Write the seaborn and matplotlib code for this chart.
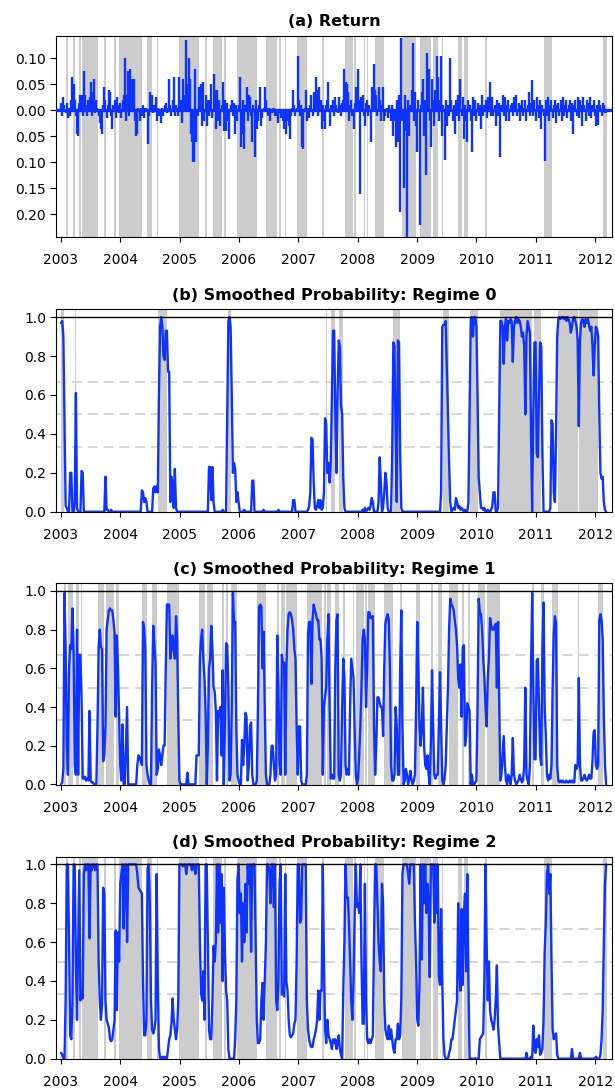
import matplotlib
matplotlib.use('Agg')
import matplotlib.pyplot as plt
from matplotlib.ticker import FuncFormatter
import seaborn as sns
import pandas as pd
import numpy as np

# weekly observations, first week ending 2003-01-03
first_week = '2003-01-03'

# weekly return, in percent
returns_pct = [
    1.5, -1, 2.5, 1, -0.5, 1.5, -1.5, 0.5, -1, 2, 6.5, 5, 2, -1, -4.5, -5, 1.5, 3, 3, -1,
    7.5, 3, 1, -1, 2, 2.5, 5.5, -1, 3.5, 6, -0.5, 2, 0.5, -1, -2.5, -3.5, -4.5, 1, 4.5, 2,
    -1.5, 1, 4, 3.5, -1, -3.5, 1, 2, -1.5, 2.5, 1, -0.5, 1.5, -1.5, 2, 3, 10, -2, 3, 7.5,
    -1, 8, 6, 2, 6, -2, -5, -4.5, 0.5, -2, 0.5, -1, 1, -1.5, 0.5, 0.5, -6.5, -1, 3.5, 0.5,
    3, -0.5, 1, 2.5, -2, 0.5, -1, -0.5, -2.5, 0.5, -1, 1, 1.5, -0.5, 0.5, 6, 1, -1, 2, 6.5,
    -1, 1, 0.5, -1, 6.5, 2, -2.5, 6, 3, 2, 13.5, 5, 10, 6, -4.5, -6, -10, -10, 8, -6,
    -1, 4.5, 1, 5, -3, 5.5, -2, 3, -3, 2, -1, 2, 5, -1.5, 7, 4, -3.5, 4, -2, 2,
    -3, 1, 5.5, -4, 2, -4, 1.5, -2, -5.5, 1, 2, -1, 1.5, -4.5, 1, -2, 1, 6.5, -7, -4.5,
    2, -7.5, 1, 4.5, -2, 3, 2.5, -1, -6, 1, -9, 2, -3.5, -2, 1, 4.5, -3, -1.5, 0.5, 4.5,
    2, 0.5, -1, 0.5, -2, -0.5, 0.5, 0.5, -1, 0, -1, -2.5, -0.5, -1.5, -1, -2, -3.5, -1.5, -4.5, -2,
    -3, -5.5, -1, 0.5, 4, 1, -1, 0.5, 10.5, 2, -1, 1, -7, -7.5, 0.5, 4, -2, 0.5, -1.5, 1,
    3, -1, 3.5, 2, 6.5, 4, -1, 4.5, 2, -3.5, 1, -2, -3.5, 1, 2, 5.5, -3, 1, 0.5, 2,
    -1, 2.5, 1, -0.5, 2.5, 1, -1, 1.5, 2, 8, 5.5, 5, 3.5, -2, 1, 2, -1, -3.5, 1.5, 4.5,
    1, 8, 2, -16, 2.5, 3, -1, -3, 1.5, 2, -1, 1, -6, 4.5, 2, 9, 4, 3, -1, 4.5,
    2, -2, 1, 4.5, -2, -1, 0.5, -1.5, 1, -0.5, -2, 1, -5, -2, -7, 2, -6, 3, -19.5, 14,
    -2, -15, 3, -4, -25, 2, -5, 1, 4, 13, -2, 3.5, -3, -8, 2, -22, 1, 3.5, 6, -5,
    2, -12.5, 11, 8, -2, -7, 6, 2, -3, 4, 10.5, 6.5, -2, 2, 10.5, -5, 1, -9.5, 2, -3,
    1, -1, 10, 2, -2, 1, -4.5, 2, -1, 3, -2, 6, -1, 2.5, -5.5, 1, -2, -6, 2, 1,
    -2, -8, 2.5, -1, 2, -2, 1.5, -1, 1, -3.5, 3, -1, 1, 2, -1.5, 2.5, 1, 5.5, -1, 2.5,
    -1, 1, -3, 2, -1, 1.5, -9, 1, 3, -1, 2.5, -2, 1, 2, -2, 1, 1.5, -1, 2.5, 1,
    3, -1, 1.5, -2, 1, 2, -1, 0.5, 2, -2, 1, 3.5, -1, 1.5, 5.8, -1, 2, -2, 2.5, 1,
    -1.5, 2, -3.5, 1, -1, -9.7, 2, -1, 2.5, -2, 1, 2, -1.5, 1, 2, -2.5, 1, 1.5, -1, 2,
    -2, 2.5, -1, 1, 2, -1.5, 1, 2, -2, 1.5, -4.5, 1, 2, -1, 2.5, -1.5, 2, 1, -3, 2.5,
    1, -2, 2, 1.5, -1, 2.5, -1.5, 1, 2, -1, -3, 1, -2.8, 2, 1, -1, 1.5, 1, -0.5, -0.5,
]

# smoothed probabilities, in percent
prob_regime0 = [
    97, 98, 90, 45, 3, 2, 0, 0, 20, 20, 0, 0, 5, 61, 2, 0, 0, 0, 21, 20,
    0, 0, 0, 0, 0, 0, 0, 0, 0, 0, 0, 0, 0, 0, 0, 0, 0, 0, 0, 18,
    1, 1, 0, 0, 1, 0, 0, 0, 0, 0, 0, 0, 0, 0, 0, 0, 0, 0, 0, 0,
    0, 0, 0, 0, 0, 0, 0, 0, 0, 0, 0, 11, 10, 5, 7, 5, 0, 0, 0, 0,
    0, 12, 13, 10, 13, 10, 60, 95, 100, 95, 80, 78, 93, 93, 72, 72, 5, 18, 15, 2,
    22, 2, 0, 0, 0, 0, 0, 0, 0, 0, 0, 0, 0, 0, 0, 0, 0, 0, 0, 0,
    0, 0, 0, 0, 0, 0, 0, 0, 0, 0, 23, 23, 6, 23, 5, 0, 0, 0, 0, 0,
    0, 0, 1, 0, 0, 0, 50, 98, 100, 95, 60, 20, 25, 22, 5, 10, 5, 0, 0, 0,
    0, 1, 0, 0, 0, 0, 0, 0, 16, 16, 0, 0, 0, 0, 0, 0, 0, 0, 1, 0,
    0, 0, 0, 0, 0, 0, 0, 0, 0, 0, 0, 1, 0, 0, 0, 0, 0, 0, 0, 0,
    0, 0, 0, 0, 6, 6, 0, 0, 0, 0, 0, 0, 0, 0, 0, 0, 0, 1, 3, 10,
    38, 37, 15, 2, 1, 3, 6, 2, 6, 1, 2, 10, 48, 45, 20, 25, 15, 25, 60, 93,
    93, 50, 20, 60, 88, 85, 55, 50, 17, 2, 0, 0, 0, 0, 0, 0, 0, 0, 0, 0,
    0, 0, 0, 0, 0, 1, 0, 2, 0, 1, 2, 1, 3, 7, 5, 0, 0, 0, 0, 5,
    28, 15, 0, 2, 10, 20, 15, 2, 0, 0, 0, 30, 87, 85, 40, 5, 88, 87, 30, 2,
    0, 0, 0, 0, 0, 0, 0, 0, 0, 0, 0, 0, 0, 0, 0, 0, 0, 0, 0, 0,
    0, 0, 0, 0, 0, 0, 0, 0, 0, 0, 0, 0, 0, 0, 10, 95, 96, 96, 98, 75,
    50, 25, 5, 0, 1, 2, 1, 7, 5, 2, 3, 1, 2, 1, 0, 1, 0, 0, 5, 50,
    98, 100, 90, 100, 100, 95, 60, 18, 10, 2, 2, 1, 2, 0, 0, 1, 0, 0, 1, 3,
    10, 10, 0, 0, 2, 50, 98, 98, 95, 76, 95, 99, 88, 98, 97, 99, 98, 77, 95, 98,
    100, 97, 99, 98, 95, 90, 92, 85, 50, 90, 98, 95, 92, 40, 0, 50, 87, 87, 30, 28,
    60, 87, 85, 30, 0, 0, 0, 0, 0, 0, 2, 47, 45, 10, 5, 40, 90, 99, 100, 99,
    100, 100, 99, 100, 98, 100, 99, 97, 92, 95, 99, 100, 98, 95, 88, 44, 88, 97, 99, 98,
    95, 99, 97, 99, 96, 93, 95, 85, 70, 85, 95, 94, 90, 50, 20, 17, 18, 5, 1, 0,
]

prob_regime1 = [
    0, 1, 8, 99, 70, 20, 5, 60, 72, 70, 91, 70, 10, 5, 80, 5, 67, 67, 45, 3,
    3, 4, 2, 3, 2, 38, 2, 1, 1, 0, 0, 0, 30, 71, 80, 71, 70, 12, 15, 30,
    80, 85, 90, 91, 90, 90, 85, 78, 35, 77, 60, 35, 10, 2, 31, 0, 0, 20, 40, 0,
    0, 0, 0, 0, 0, 0, 0, 10, 15, 14, 12, 10, 84, 80, 70, 10, 5, 2, 0, 0,
    50, 82, 72, 63, 5, 8, 18, 15, 10, 15, 20, 20, 60, 93, 93, 93, 65, 70, 77, 70,
    65, 87, 75, 35, 2, 0, 0, 0, 0, 0, 0, 6, 0, 0, 0, 0, 0, 0, 0, 15,
    15, 15, 65, 75, 80, 65, 55, 38, 0, 20, 60, 65, 82, 70, 50, 48, 38, 2, 38, 35,
    40, 15, 59, 0, 30, 73, 72, 50, 2, 5, 40, 99, 84, 84, 30, 5, 2, 0, 0, 23,
    10, 20, 37, 35, 2, 10, 30, 32, 5, 0, 0, 0, 2, 40, 92, 93, 92, 60, 79, 40,
    5, 0, 0, 0, 5, 20, 20, 10, 2, 5, 77, 50, 10, 5, 67, 62, 63, 5, 60, 80,
    88, 89, 88, 85, 80, 70, 65, 30, 5, 30, 30, 2, 0, 0, 0, 0, 5, 78, 84, 84,
    52, 85, 93, 90, 88, 85, 85, 75, 75, 65, 5, 40, 45, 50, 75, 88, 40, 3, 5, 3,
    3, 60, 85, 88, 5, 2, 5, 40, 65, 55, 10, 5, 8, 5, 40, 65, 60, 55, 30, 5,
    0, 3, 15, 30, 50, 75, 80, 75, 40, 60, 89, 89, 86, 86, 87, 30, 5, 20, 45, 45,
    42, 40, 40, 25, 60, 83, 86, 88, 85, 60, 10, 2, 2, 5, 40, 30, 5, 5, 60, 90,
    30, 0, 2, 8, 5, 0, 3, 7, 2, 0, 2, 5, 40, 84, 60, 30, 20, 30, 50, 20,
    10, 8, 15, 5, 0, 22, 59, 30, 5, 3, 5, 5, 30, 58, 30, 2, 0, 3, 10, 30,
    50, 80, 96, 93, 92, 90, 85, 80, 72, 55, 50, 62, 35, 71, 72, 20, 25, 42, 40, 38,
    0, 5, 0, 0, 1, 2, 40, 96, 89, 88, 80, 65, 55, 40, 30, 55, 65, 86, 82, 80,
    80, 82, 83, 50, 84, 45, 2, 5, 15, 25, 10, 2, 0, 5, 3, 0, 5, 24, 5, 2,
    0, 1, 2, 5, 3, 1, 2, 10, 50, 5, 2, 0, 10, 60, 99, 50, 13, 13, 64, 65,
    40, 15, 10, 70, 94, 40, 25, 5, 2, 5, 3, 10, 50, 78, 87, 83, 10, 2, 1, 2,
    1, 2, 1, 1, 2, 1, 1, 2, 1, 2, 1, 1, 10, 8, 10, 55, 10, 2, 2, 3,
    5, 3, 2, 3, 5, 3, 3, 12, 27, 28, 10, 8, 10, 85, 88, 85, 75, 35, 10, 0,
]

prob_regime2 = [
    3, 2, 0, 0, 30, 100, 100, 60, 12, 10, 30, 100, 100, 50, 20, 60, 97, 30, 35, 31,
    95, 100, 97, 100, 100, 62, 100, 97, 100, 100, 97, 100, 100, 50, 30, 20, 28, 88, 85, 30,
    20, 18, 16, 10, 9, 10, 15, 20, 66, 25, 65, 50, 90, 95, 100, 67, 100, 100, 60, 100,
    100, 100, 100, 100, 100, 100, 100, 95, 88, 87, 86, 85, 40, 12, 12, 20, 98, 100, 80, 30,
    15, 13, 15, 20, 95, 40, 5, 0, 0, 1, 0, 1, 0, 0, 5, 10, 12, 18, 31, 20,
    15, 10, 15, 30, 100, 100, 100, 99, 100, 100, 95, 100, 100, 100, 100, 97, 100, 100, 95, 100,
    100, 100, 60, 34, 30, 45, 20, 100, 100, 60, 15, 10, 10, 30, 58, 50, 60, 100, 65, 100,
    70, 95, 40, 88, 55, 35, 30, 5, 0, 0, 0, 0, 0, 10, 30, 92, 100, 75, 85, 50,
    80, 60, 90, 65, 100, 90, 100, 55, 100, 100, 100, 60, 20, 8, 8, 10, 30, 39, 20, 40,
    60, 100, 100, 97, 80, 100, 100, 78, 100, 30, 25, 40, 90, 100, 33, 35, 32, 95, 40, 35,
    20, 12, 11, 12, 13, 18, 20, 50, 100, 100, 70, 72, 100, 100, 100, 100, 30, 15, 10, 7,
    6, 6, 10, 12, 15, 20, 35, 20, 35, 35, 100, 50, 15, 8, 20, 12, 10, 8, 5, 10,
    8, 10, 5, 8, 12, 5, 2, 0, 35, 60, 100, 83, 83, 70, 50, 30, 20, 40, 75, 100,
    78, 80, 75, 100, 50, 18, 18, 90, 30, 10, 8, 10, 8, 10, 12, 60, 100, 100, 80, 60,
    50, 45, 90, 80, 30, 15, 12, 10, 17, 10, 15, 10, 5, 3, 10, 10, 18, 10, 12, 30,
    95, 100, 100, 100, 100, 95, 90, 100, 100, 100, 100, 70, 50, 20, 17, 40, 100, 51, 100, 80,
    100, 75, 90, 80, 42, 100, 100, 100, 70, 100, 75, 100, 42, 38, 77, 40, 10, 2, 0, 0,
    0, 3, 5, 10, 10, 15, 20, 25, 30, 80, 45, 35, 77, 38, 75, 85, 45, 95, 40, 0,
    0, 0, 0, 0, 0, 0, 0, 0, 10, 11, 12, 13, 40, 100, 60, 30, 50, 25, 20, 18,
    15, 20, 30, 48, 17, 8, 0, 0, 0, 0, 0, 0, 0, 0, 0, 0, 0, 0, 0, 0,
    0, 0, 0, 0, 0, 0, 0, 0, 0, 3, 0, 0, 0, 1, 0, 17, 5, 3, 10, 6,
    12, 2, 3, 5, 20, 55, 70, 95, 100, 85, 95, 50, 15, 10, 12, 13, 2, 0, 0, 0,
    0, 0, 0, 0, 0, 0, 0, 0, 0, 5, 0, 0, 0, 0, 0, 0, 3, 0, 0, 0,
    0, 0, 0, 0, 0, 0, 0, 0, 0, 0, 1, 0, 0, 0, 2, 10, 25, 60, 90, 100,
]

# most likely regime: week spans (first, last) for regimes 0 and 2, the rest is regime 1
regime0_spans = [(0, 2), (13, 13), (86, 93), (147, 149), (233, 233), (238, 240), (245, 247),
                 (292, 297), (336, 340), (360, 366), (386, 413), (416, 421), (437, 454), (456, 471)]
regime2_spans = [(5, 6), (11, 12), (16, 17), (19, 32), (38, 39), (47, 48), (51, 71), (76, 79), (85, 85),
                 (104, 121), (127, 128), (134, 141), (144, 144), (155, 172), (181, 189), (192, 193),
                 (197, 197), (208, 216), (230, 231), (250, 256), (258, 259), (267, 267), (269, 269),
                 (276, 283), (300, 311), (316, 325), (327, 331), (335, 335), (349, 352), (355, 357),
                 (373, 374), (425, 431), (477, 479)]

panel_titles = ['(a) Return',
                '(b) Smoothed Probability: Regime 0',
                '(c) Smoothed Probability: Regime 1',
                '(d) Smoothed Probability: Regime 2']
year_ticks = list(range(2003, 2013))
return_ticks = [0.10, 0.05, 0.00, -0.05, -0.10, -0.15, -0.20]
prob_ticks = [0.0, 0.2, 0.4, 0.6, 0.8, 1.0]
guide_levels = [1 / 3, 1 / 2, 2 / 3]

sns.set_theme(style='white')
plt.rcParams['font.family'] = ['DejaVu Sans']
plt.rcParams['text.color'] = 'black'
plt.rcParams['axes.titlecolor'] = 'black'

BLUE = '#0f33ff'
SHADE = '#cccccc'

n = len(returns_pct)
dates = pd.date_range(first_week, periods=n, freq='7D')
df = pd.DataFrame({
    'date': dates,
    'ret': np.array(returns_pct) / 100.0,
    'p0': np.array(prob_regime0) / 100.0,
    'p1': np.array(prob_regime1) / 100.0,
    'p2': np.array(prob_regime2) / 100.0,
})

regime = np.ones(n, dtype=int)
for a, b in regime0_spans:
    regime[a:b + 1] = 0
for a, b in regime2_spans:
    regime[a:b + 1] = 2


def runs(mask):
    """Consecutive True stretches as (first, last) index pairs."""
    out = []
    start = None
    for i, m in enumerate(mask):
        if m and start is None:
            start = i
        if not m and start is not None:
            out.append((start, i - 1))
            start = None
    if start is not None:
        out.append((start, len(mask) - 1))
    return out


def shade(ax, k):
    half = pd.Timedelta(days=3.5)
    for s, e in runs(regime == k):
        ax.axvspan(dates[s] - half, dates[e] + half, color=SHADE, lw=0, zorder=1)


def style_axis(ax, title):
    ax.set_xlim(pd.Timestamp('2002-12-01'), pd.Timestamp('2012-04-16'))
    ax.set_xticks([pd.Timestamp(f'{y}-01-01') for y in year_ticks])
    ax.set_xticklabels([str(y) for y in year_ticks])
    ax.tick_params(axis='x', bottom=True, direction='out', length=3.5, width=0.8,
                   pad=8, labelsize=10, colors='black')
    ax.tick_params(axis='y', left=True, direction='out', length=4, width=0.8,
                   pad=3, labelsize=10, colors='black')
    for sp in ax.spines.values():
        sp.set_color('black')
        sp.set_linewidth(0.8)
    ax.set_xlabel('')
    ax.set_ylabel('')
    ax.set_title(title, fontsize=11.5, fontweight='bold', pad=7, color='black')


fig = plt.figure(figsize=(6.15, 10.91), dpi=100)
left, width = 0.0906, 0.905
rows = [(0.7830, 0.1840), (0.5304, 0.1861), (0.2805, 0.1849), (0.0291, 0.1857)]
axes = [fig.add_axes([left, b, width, h]) for b, h in rows]

# (a) return with regime 2 shading
ax = axes[0]
shade(ax, 2)
ax.vlines(df['date'], 0, df['ret'], color=BLUE, lw=1.7, zorder=3)
ax.axhline(0, color=BLUE, lw=2.4, zorder=3)
ax.set_ylim(-0.243, 0.143)
ax.set_yticks(return_ticks)
ax.yaxis.set_major_formatter(FuncFormatter(lambda v, p: f'{abs(v):.2f}'))
style_axis(ax, panel_titles[0])

# (b)-(d) smoothed probabilities
for k, ax in enumerate(axes[1:]):
    for lvl in guide_levels:
        ax.axhline(lvl, color='#d0d0d0', lw=1.2, ls=(0, (6, 3.5)), zorder=0.5)
    shade(ax, k)
    sns.lineplot(data=df, x='date', y=f'p{k}', ax=ax, color=BLUE, lw=1.7, zorder=3)
    ax.axhline(1.0, color='black', lw=1.0, zorder=4)
    ax.set_ylim(-0.003, 1.04)
    ax.set_yticks(prob_ticks)
    ax.yaxis.set_major_formatter(FuncFormatter(lambda v, p: f'{v:.1f}'))
    style_axis(ax, panel_titles[k + 1])

fig.savefig('out.png', dpi=100)
